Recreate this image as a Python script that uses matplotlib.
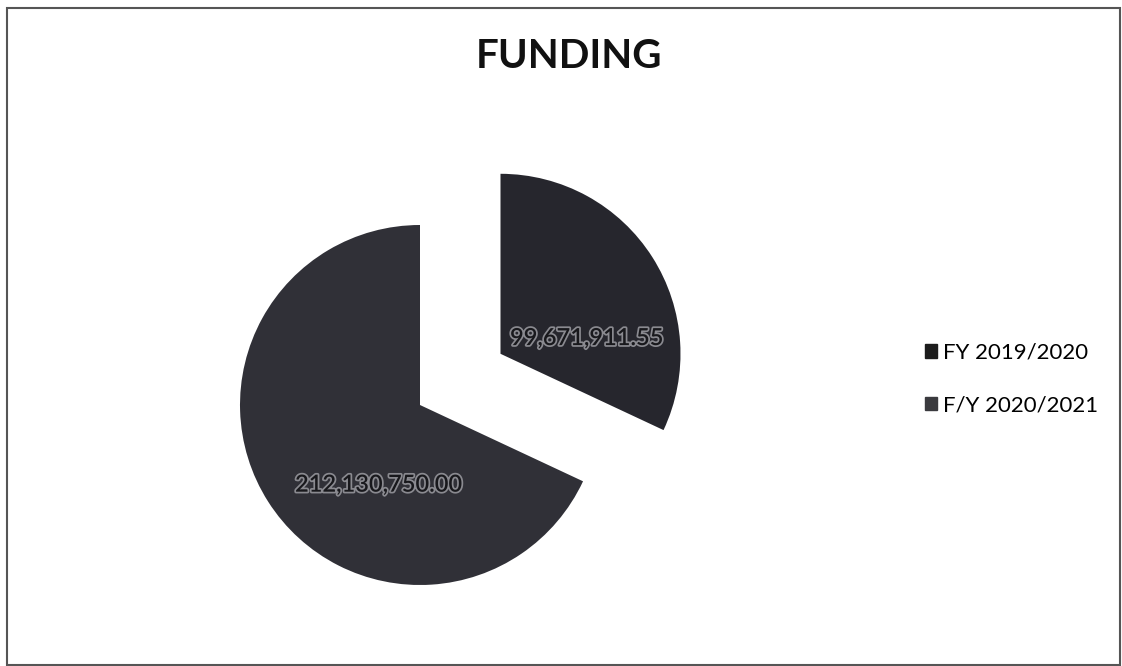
import matplotlib.pyplot as plt
import matplotlib.patheffects as pe
from matplotlib.patches import Rectangle
import numpy as np

plt.rcParams['font.family'] = ['Lato', 'DejaVu Sans']

labels = ['FY 2019/2020', 'F/Y 2020/2021']
values = [99671911.55, 212130750.00]
value_text = ['99,671,911.55', '212,130,750.00']
colors = ['#26262d', '#303037']
legend_colors = ['#1c1c1c', '#3a3a3e']

fig = plt.figure(figsize=(11.22, 6.66), dpi=100)
ax = fig.add_axes([0, 0, 1, 1])

wedges, _ = ax.pie(values, colors=colors, startangle=90, counterclock=False,
                   explode=[0.53, 0.0], radius=1.0, center=(0, 0))

# one unit = 180 px, pie centre at (420, 405) px from top-left
scale = 180.0
cx, cy = 420.0, 405.0
ax.set_xlim(-cx / scale, (1122 - cx) / scale)
ax.set_ylim(-(666 - cy) / scale, cy / scale)
ax.set_aspect('equal')
ax.axis('off')

# value labels, placed relative to each wedge's own centre
offsets = [(0.48, 0.09), (-0.23, -0.44)]
for w, txt, (dx, dy) in zip(wedges, value_text, offsets):
    x0, y0 = w.center
    ax.text(x0 + dx, y0 + dy, txt, ha='center', va='center', fontsize=17,
            fontweight='semibold', color='#18181c',
            path_effects=[pe.withStroke(linewidth=2.5, foreground='#8a8a90')])

fig.text(569 / 1122, 1 - 57 / 666, 'FUNDING', ha='center', va='center',
         fontsize=29, fontweight='bold', color='#111111')

handles = [Rectangle((0, 0), 1, 1, color=c) for c in legend_colors]
fig.legend(handles, labels, loc='center left', bbox_to_anchor=(914 / 1122, 1 - 379 / 666),
           frameon=False, fontsize=16, handlelength=0.55, handleheight=0.55,
           handletextpad=0.25, labelspacing=1.45, borderpad=0)

# thin outer frame
fig.patches.append(Rectangle((7 / 1122, 1 - 665 / 666), 1113 / 1122, 657 / 666,
                             transform=fig.transFigure, fill=False,
                             edgecolor='#555555', linewidth=1.5))

fig.savefig('out.png', dpi=100)
